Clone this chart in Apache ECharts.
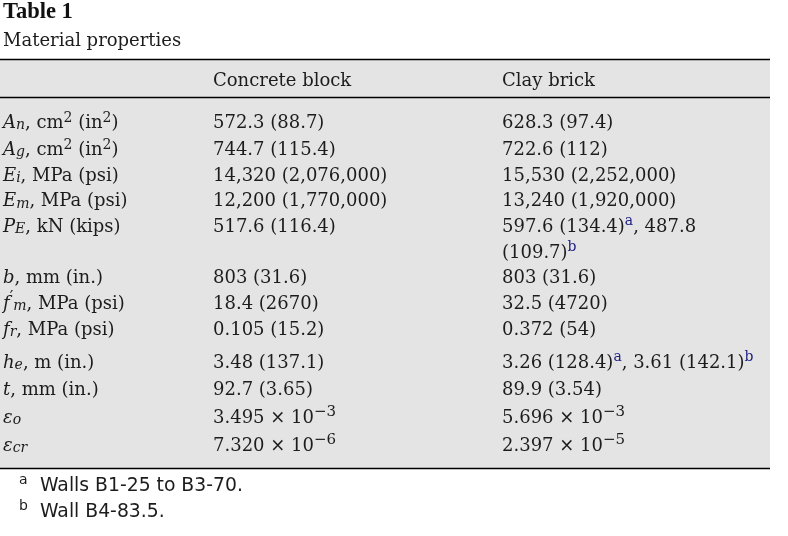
<!DOCTYPE html>
<html>
<head>
<meta charset="utf-8">
<script src="https://cdn.jsdelivr.net/npm/echarts@6.0.0/dist/echarts.min.js"></script>
<style>
  html, body { margin: 0; padding: 0; background: #ffffff; }
  #chart { width: 788px; height: 536px; }
</style>
</head>
<body>
<div id="chart"></div>
<script>
// ---------------- data ----------------
const tableTitle = 'Table 1';
const tableCaption = 'Material properties';
const columnHeaders = ['Concrete block', 'Clay brick'];
const propertyLabels = [
  '{i|A}{sub|n}, cm{sup|2} (in{sup|2})',
  '{i|A}{sub|g}, cm{sup|2} (in{sup|2})',
  '{i|E}{sub|i}, MPa (psi)',
  '{i|E}{sub|m}, MPa (psi)',
  '{i|P}{sub|E}, kN (kips)',
  '',
  '{i|b}, mm (in.)',
  '{i|f}{pr|′}{sub|m}, MPa (psi)',
  '{i|f}{sub|r}, MPa (psi)',
  '{i|h}{sub|e}, m (in.)',
  '{i|t}, mm (in.)',
  '{i|ε}{sub|o}',
  '{i|ε}{sub|cr}'
];
const concreteBlock = [
  '572.3 (88.7)',
  '744.7 (115.4)',
  '14,320 (2,076,000)',
  '12,200 (1,770,000)',
  '517.6 (116.4)',
  '',
  '803 (31.6)',
  '18.4 (2670)',
  '0.105 (15.2)',
  '3.48 (137.1)',
  '92.7 (3.65)',
  '3.495 × 10{exp|−3}',
  '7.320 × 10{exp|−6}'
];
const clayBrick = [
  '628.3 (97.4)',
  '722.6 (112)',
  '15,530 (2,252,000)',
  '13,240 (1,920,000)',
  '597.6 (134.4){lk|a}, 487.8',
  '(109.7){lk|b}',
  '803 (31.6)',
  '32.5 (4720)',
  '0.372 (54)',
  '3.26 (128.4){lk|a}, 3.61 (142.1){lk|b}',
  '89.9 (3.54)',
  '5.696 × 10{exp|−3}',
  '2.397 × 10{exp|−5}'
];
const footnoteMarks = ['a', 'b'];
const footnoteTexts = ['Walls B1-25 to B3-70.', 'Wall B4-83.5.'];

// ---------------- layout / style ----------------
const PANEL_TOP = 59, PANEL_BOTTOM = 468, PANEL_RIGHT = 770, HEADER_RULE = 97.5;
const COL_X = [3, 213, 502];
const ROW_STEP = 25.9;          // px per table line
const FIRST_ROW_Y = 123;        // centre of first body line
const HEADER_Y = 81;
const rowLeading = [0, 1.1, 0, -0.4, -0.4, 0.1, -0.9, 0.1, 0.1, 7.1, 1.1, 2.1, 2.1]; // typesetting extra leading (px)
const SERIF = 'DejaVu Serif';
const SANS = 'DejaVu Sans';
const INK = '#1c1c1c';
const LINK = '#1d1d82';

const yMin = -(FIRST_ROW_Y - PANEL_TOP) / ROW_STEP;
const yMax = yMin + (PANEL_BOTTOM - PANEL_TOP) / ROW_STEP;
let acc = 0;
const rowPos = rowLeading.map((lead, i) => { acc += lead; return i + acc / ROW_STEP; });
const headerPos = (HEADER_Y - FIRST_ROW_Y) / ROW_STEP;

const rich = {
  i:   { fontFamily: SERIF, fontSize: 18, fontStyle: 'italic', fill: INK, lineHeight: 26 },
  sub: { fontFamily: SERIF, fontSize: 14, fontStyle: 'italic', fill: INK, height: 21, verticalAlign: 'bottom' },
  sup: { fontFamily: SERIF, fontSize: 14, fill: INK, height: 16, verticalAlign: 'top' },
  pr:  { fontFamily: SERIF, fontSize: 16, fill: INK, height: 14, verticalAlign: 'top' },
  exp: { fontFamily: SERIF, fontSize: 15, fill: INK, height: 15, verticalAlign: 'top' },
  lk:  { fontFamily: SERIF, fontSize: 14, fill: LINK, height: 15, verticalAlign: 'top' }
};
const baseText = { fontFamily: SERIF, fontSize: 18, fill: INK, lineHeight: 26, align: 'left', verticalAlign: 'middle', rich: rich };

const chart = echarts.init(document.getElementById('chart'), null, { renderer: 'canvas' });

const option = {
  backgroundColor: '#ffffff',
  animation: false,
  title: {
    text: tableTitle,
    subtext: tableCaption,
    left: 3, top: 1, padding: 0, itemGap: 6,
    textStyle: { fontFamily: 'Liberation Serif', fontWeight: 'bold', fontSize: 22.5, color: '#111', lineHeight: 23 },
    subtextStyle: { fontFamily: SERIF, fontSize: 18, color: INK, lineHeight: 22 }
  },
  grid: {
    left: 0, width: PANEL_RIGHT, top: PANEL_TOP, bottom: 536 - PANEL_BOTTOM,
    show: true, backgroundColor: '#e4e4e4', borderWidth: 0
  },
  xAxis: { type: 'value', min: 0, max: PANEL_RIGHT, show: false },
  yAxis: { type: 'value', inverse: true, min: yMin, max: yMax, show: false },
  series: [
    {
      type: 'custom',
      name: 'header',
      silent: true,
      data: [[headerPos]],
      renderItem: function (params, api) {
        const y = api.coord([0, api.value(0)])[1];
        return {
          type: 'group',
          children: columnHeaders.map((h, c) => ({
            type: 'text',
            style: Object.assign({}, baseText, { text: h, x: api.coord([COL_X[c + 1], 0])[0], y: y })
          }))
        };
      }
    },
    {
      type: 'custom',
      name: 'rows',
      silent: true,
      data: rowPos.map(p => [p]),
      renderItem: function (params, api) {
        const i = params.dataIndex;
        const y = api.coord([0, api.value(0)])[1];
        const cells = [propertyLabels[i], concreteBlock[i], clayBrick[i]];
        const children = [];
        cells.forEach((t, c) => {
          if (!t) return;
          children.push({
            type: 'text',
            style: Object.assign({}, baseText, { text: t, x: api.coord([COL_X[c], 0])[0], y: y })
          });
        });
        return { type: 'group', children: children };
      }
    }
  ],
  graphic: [
    { type: 'line', shape: { x1: 0, y1: PANEL_TOP + 0.5, x2: PANEL_RIGHT, y2: PANEL_TOP + 0.5 }, style: { stroke: '#000', lineWidth: 1.3 }, z: 10 },
    { type: 'line', shape: { x1: 0, y1: HEADER_RULE, x2: PANEL_RIGHT, y2: HEADER_RULE }, style: { stroke: '#000', lineWidth: 1.3 }, z: 10 },
    { type: 'line', shape: { x1: 0, y1: PANEL_BOTTOM + 0.5, x2: PANEL_RIGHT, y2: PANEL_BOTTOM + 0.5 }, style: { stroke: '#000', lineWidth: 1.3 }, z: 10 }
  ].concat(footnoteTexts.map((t, k) => ({
    type: 'text', z: 10,
    style: {
      text: '{m|' + footnoteMarks[k] + '}{t|' + t + '}',
      x: 19, y: 486 + k * 26, verticalAlign: 'middle', align: 'left',
      rich: {
        m: { fontFamily: SANS, fontSize: 14, fill: INK, lineHeight: 15, verticalAlign: 'top', width: 21 },
        t: { fontFamily: SANS, fontSize: 18.8, fill: INK, lineHeight: 26 }
      }
    }
  })))
};

chart.setOption(option);
</script>
</body>
</html>
